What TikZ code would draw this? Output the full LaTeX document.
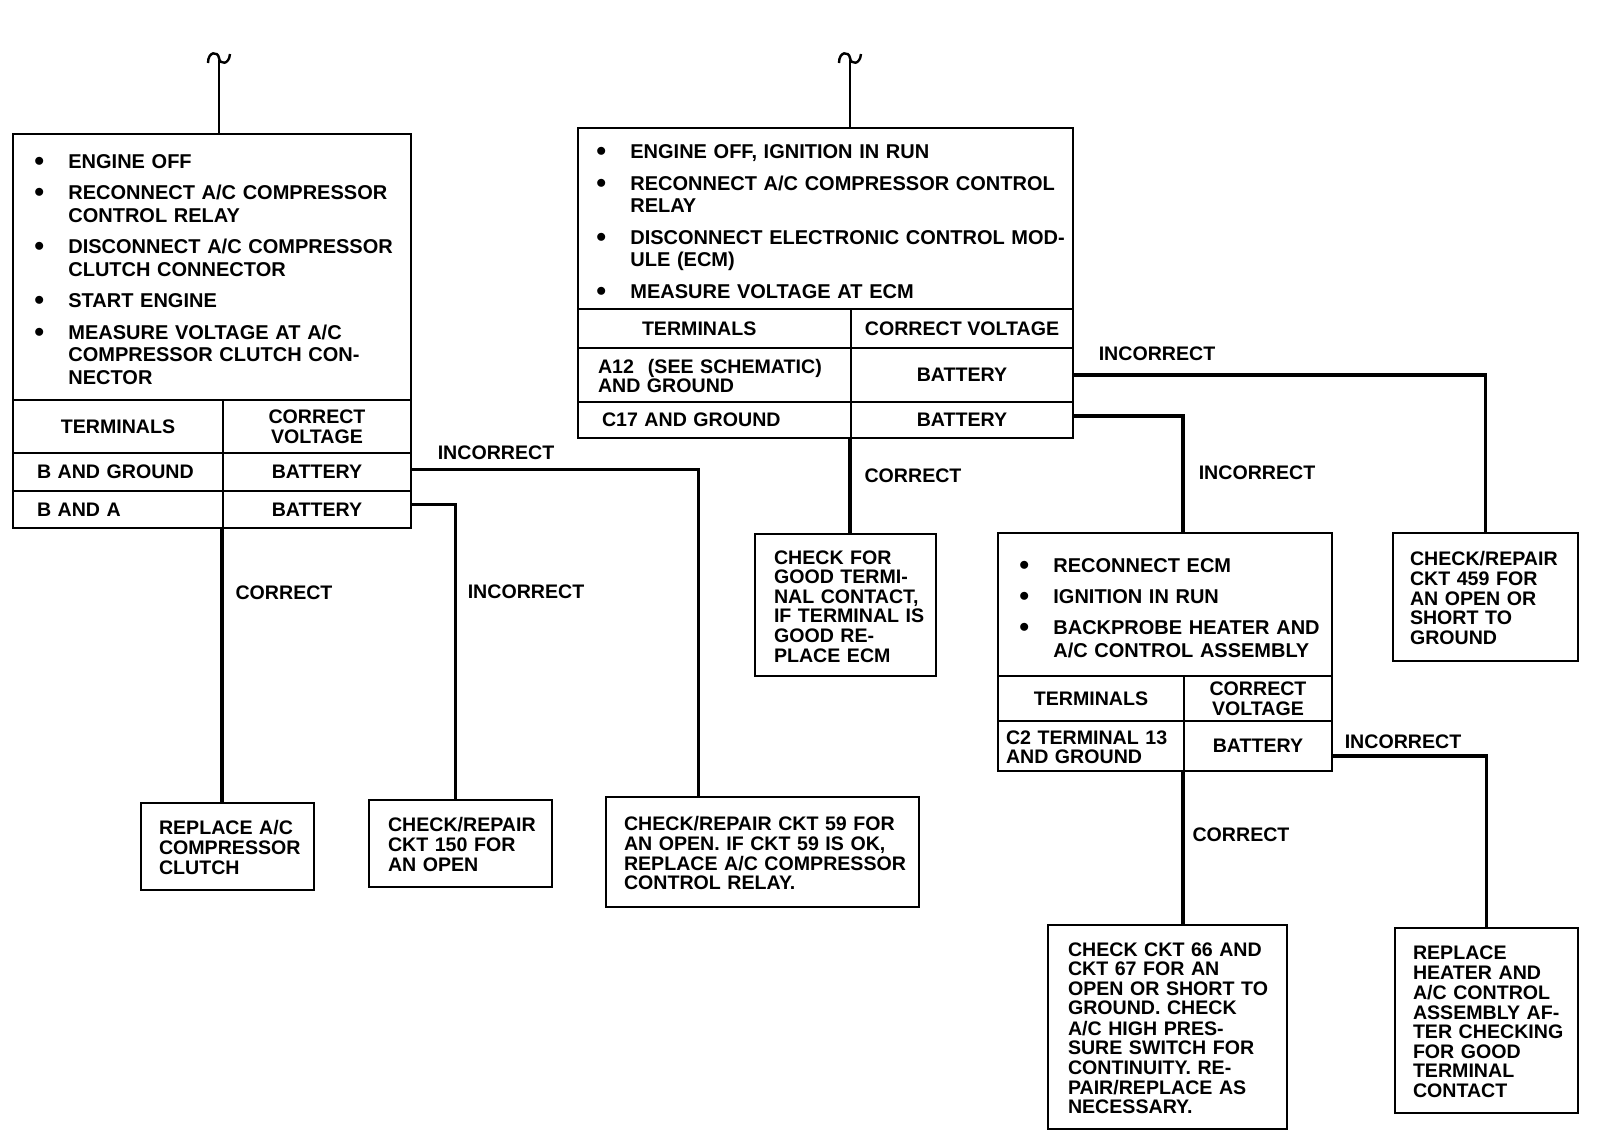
\documentclass[tikz,border=0pt]{standalone}
\usepackage{fontspec}
\setmainfont{Liberation Sans}
\setlength{\parindent}{0pt}
\newcommand{\stepdot}{\raisebox{2pt}{$\bullet$}}
\newcommand{\notelines}[1]{\begin{tabular}{@{}l@{}}\rule{0pt}{22pt}#1\end{tabular}}

\begin{document}
\begin{tikzpicture}[x=1pt, y=-1pt,
    every node/.style={font=\fontsize{19.6}{19.6}\selectfont\bfseries, inner sep=0pt},
    boxed/.style={draw, line width=2pt, anchor=north west},
    stepbox/.style={boxed, align=left, font=\fontsize{20}{22.4}\selectfont\bfseries},
    cellbox/.style={boxed, align=center},
    notebox/.style={boxed, align=left},
    lbl/.style={inner sep=1pt},
    branch/.style={line width=3.4pt},
    lead/.style={line width=2.4pt},
  ]
  \useasboundingbox (0,0) rectangle (1600,1138);

  % first check: compressor clutch connector
  \node[stepbox, minimum width=398pt, minimum height=266pt, text width=356pt, inner xsep=21pt] (s1) at (12,133) {%
    \begin{tabular}{@{}c@{\hspace{24pt}}l@{}}
    \stepdot & \rule{0pt}{25pt}ENGINE OFF\\[9.2pt]
    \stepdot & RECONNECT A/C COMPRESSOR\\
             & CONTROL RELAY\\[9.2pt]
    \stepdot & DISCONNECT A/C COMPRESSOR\\
             & CLUTCH CONNECTOR\\[9.2pt]
    \stepdot & START ENGINE\\[9.2pt]
    \stepdot & MEASURE VOLTAGE AT A/C\\
             & COMPRESSOR CLUTCH CON-\\
             & NECTOR
    \end{tabular}};
  \node[cellbox, minimum width=210pt, minimum height=53pt] (h1a) at (12,399) {TERMINALS};
  \node[cellbox, minimum width=188pt, minimum height=53pt] (h1b) at (222,399) {CORRECT\\VOLTAGE};
  \node[notebox, minimum width=210pt, minimum height=38pt, text width=162pt, inner xsep=24pt] (r1a) at (12,452) {B AND GROUND};
  \node[cellbox, minimum width=188pt, minimum height=38pt] (r1b) at (222,452) {BATTERY};
  \node[notebox, minimum width=210pt, minimum height=37pt, text width=162pt, inner xsep=24pt] (r2a) at (12,490) {B AND A};
  \node[cellbox, minimum width=188pt, minimum height=37pt] (r2b) at (222,490) {BATTERY};

  % second check: voltage at ECM
  \node[stepbox, minimum width=495pt, minimum height=181pt, text width=459pt, inner xsep=18pt] (s2) at (577,127) {%
    \begin{tabular}{@{}c@{\hspace{24pt}}l@{}}
    \stepdot & \rule{0pt}{27pt}ENGINE OFF, IGNITION IN RUN\\[9.2pt]
    \stepdot & RECONNECT A/C COMPRESSOR CONTROL\\
             & RELAY\\[9.2pt]
    \stepdot & DISCONNECT ELECTRONIC CONTROL MOD-\\
             & ULE (ECM)\\[9.2pt]
    \stepdot & MEASURE VOLTAGE AT ECM
    \end{tabular}};
  \node[notebox, minimum width=273pt, minimum height=39pt, text width=145pt, inner xsep=64pt] (h2a) at (577,308) {TERMINALS};
  \node[cellbox, minimum width=222pt, minimum height=39pt] (h2b) at (850,308) {CORRECT VOLTAGE};
  \node[notebox, minimum width=273pt, minimum height=54pt, text width=233pt, inner xsep=20pt] (r3a) at (577,347) {%
    \notelines{A12\hspace{14pt}(SEE SCHEMATIC)\\AND GROUND}};
  \node[cellbox, minimum width=222pt, minimum height=54pt] (r3b) at (850,347) {BATTERY};
  \node[notebox, minimum width=273pt, minimum height=36pt, text width=225pt, inner xsep=24pt] (r4a) at (577,401) {C17 AND GROUND};
  \node[cellbox, minimum width=222pt, minimum height=36pt] (r4b) at (850,401) {BATTERY};

  % third check: heater and A/C control
  \node[stepbox, minimum width=334pt, minimum height=143pt, text width=292pt, inner xsep=21pt] (s3) at (997,532) {%
    \begin{tabular}{@{}c@{\hspace{24pt}}l@{}}
    \stepdot & \rule{0pt}{28pt}RECONNECT ECM\\[8.6pt]
    \stepdot & IGNITION IN RUN\\[8.6pt]
    \stepdot & BACKPROBE HEATER AND\\
             & A/C CONTROL ASSEMBLY
    \end{tabular}};
  \node[cellbox, minimum width=186pt, minimum height=45pt] (h3a) at (997,675) {TERMINALS};
  \node[cellbox, minimum width=148pt, minimum height=45pt] (h3b) at (1183,675) {CORRECT\\VOLTAGE};
  \node[notebox, minimum width=186pt, minimum height=50pt, text width=170pt, inner xsep=8pt] (r5a) at (997,720) {%
    \notelines{C2 TERMINAL 13\\AND GROUND}};
  \node[cellbox, minimum width=148pt, minimum height=50pt] (r5b) at (1183,720) {BATTERY};

  % results
  \node[notebox, minimum width=173pt, minimum height=87pt, text width=137pt, inner xsep=18pt] (a1) at (140,802) {%
    \notelines{REPLACE A/C\\COMPRESSOR\\CLUTCH}};
  \node[notebox, minimum width=183pt, minimum height=87pt, text width=145pt, inner xsep=19pt] (a2) at (368,799) {%
    \notelines{CHECK/REPAIR\\CKT 150 FOR\\AN OPEN}};
  \node[notebox, minimum width=313pt, minimum height=110pt, text width=277pt, inner xsep=18pt] (a3) at (605,796) {%
    \notelines{CHECK/REPAIR CKT 59 FOR\\AN OPEN. IF CKT 59 IS OK,\\REPLACE A/C COMPRESSOR\\CONTROL RELAY.}};
  \node[notebox, minimum width=181pt, minimum height=142pt, text width=143pt, inner xsep=19pt] (a4) at (754,533) {%
    \notelines{CHECK FOR\\GOOD TERMI-\\NAL CONTACT,\\IF TERMINAL IS\\GOOD RE-\\PLACE ECM}};
  \node[notebox, minimum width=185pt, minimum height=128pt, text width=151pt, inner xsep=17pt] (a5) at (1392,532) {%
    \notelines{CHECK/REPAIR\\CKT 459 FOR\\AN OPEN OR\\SHORT TO\\GROUND}};
  \node[notebox, minimum width=239pt, minimum height=204pt, text width=199pt, inner xsep=20pt] (a6) at (1047,924) {%
    \notelines{CHECK CKT 66 AND\\CKT 67 FOR AN\\OPEN OR SHORT TO\\GROUND. CHECK\\A/C HIGH PRES-\\SURE SWITCH FOR\\CONTINUITY. RE-\\PAIR/REPLACE AS\\NECESSARY.}};
  \node[notebox, minimum width=183pt, minimum height=185pt, text width=147pt, inner xsep=18pt] (a7) at (1394,927) {%
    \notelines{REPLACE\\HEATER AND\\A/C CONTROL\\ASSEMBLY AF-\\TER CHECKING\\FOR GOOD\\TERMINAL\\CONTACT}};

  % leads from the previous page
  \coordinate (in1) at (219,60);
  \coordinate (in2) at (850,60);
  \draw[lead] (in1) -- (in1 |- s1.north);
  \draw[lead] (in2) -- (in2 |- s2.north);
  \draw[lead, shift={(219,57)}] (-11,6) .. controls (-11,-6) and (-1,-6) .. (0,1) .. controls (1,8) and (10,8) .. (11,-3);
  \draw[lead, shift={(850,57)}] (-11,6) .. controls (-11,-6) and (-1,-6) .. (0,1) .. controls (1,8) and (10,8) .. (11,-3);

  % branches
  \draw[branch] ([yshift=2.5pt]r1b.east) -| ([xshift=-64pt]a3.north);
  \draw[branch] ([yshift=5pt]r2b.east) -| ([xshift=-5pt]a2.north);
  \draw[branch] (r2b.south west) -- (r2b.south west |- a1.north);
  \draw[branch] (r3b.east) -| (a5.north);
  \draw[branch] ([yshift=4pt]r4b.east) -| (s3.north -| h3b.west);
  \draw[branch] (r4b.south west) -- (r4b.south west |- a4.north);
  \draw[branch] ([yshift=-10pt]r5b.east) -| (a7.north);
  \draw[branch] (r5b.south west) -- (r5b.south west |- a6.north);

  \node[lbl] (li1) at (496,453) {INCORRECT};
  \node[lbl] (lc1) at (284,593) {CORRECT};
  \node[lbl] (li2) at (526,592) {INCORRECT};
  \node[lbl] (li3) at (1157,354) {INCORRECT};
  \node[lbl] (lc2) at (913,476) {CORRECT};
  \node[lbl] (li4) at (1257,473) {INCORRECT};
  \node[lbl] (li5) at (1403,742) {INCORRECT};
  \node[lbl] (lc3) at (1241,835) {CORRECT};
\end{tikzpicture}
\end{document}
